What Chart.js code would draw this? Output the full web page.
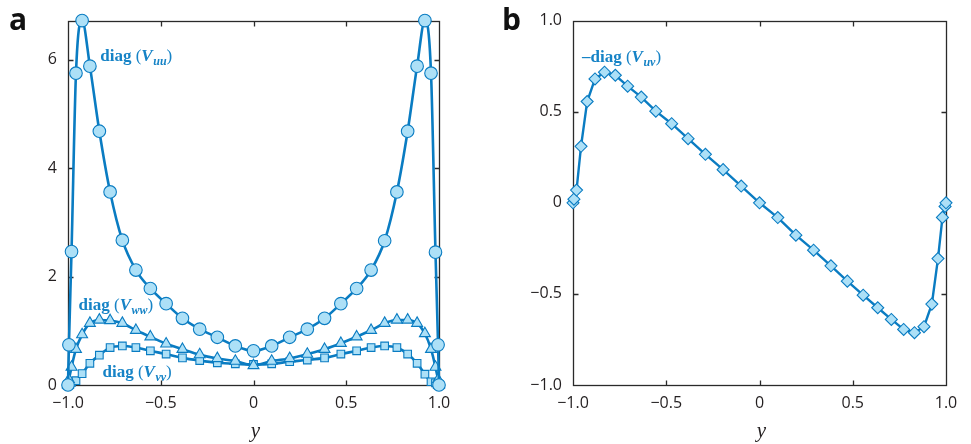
<!DOCTYPE html>
<html><head><meta charset="utf-8">
<script src="https://cdn.jsdelivr.net/npm/chart.js@4.4.1/dist/chart.umd.min.js"></script>
<style>
html,body{margin:0;padding:0;background:#fff;}
#wrap{position:relative;width:971px;height:444px;overflow:hidden;background:#fff;}
.box{position:absolute;top:0;height:444px;}
#boxA{left:0;width:485px;}
#boxB{left:485px;width:486px;}
</style></head><body>
<div id="wrap">
  <div class="box" id="boxA"><canvas id="cA" width="485" height="444"></canvas></div>
  <div class="box" id="boxB"><canvas id="cB" width="486" height="444"></canvas></div>
</div>
<script>
// wall-normal positions y (collocation grid)
const yGrid = [-1, -0.995, -0.981, -0.957, -0.924, -0.882, -0.831, -0.773, -0.707, -0.634, -0.556, -0.471, -0.383, -0.290, -0.195, -0.098, 0,
               0.098, 0.195, 0.290, 0.383, 0.471, 0.556, 0.634, 0.707, 0.773, 0.831, 0.882, 0.924, 0.957, 0.981, 0.995, 1];
// panel a
const diagVuu = [0, 0.74, 2.46, 5.75, 6.72, 5.88, 4.68, 3.56, 2.67, 2.12, 1.78, 1.50, 1.23, 1.03, 0.88, 0.72, 0.63,
                 0.72, 0.88, 1.03, 1.23, 1.50, 1.78, 2.12, 2.66, 3.56, 4.68, 5.88, 6.72, 5.75, 2.45, 0.74, 0];
const diagVww = [0, 0.10, 0.33, 0.66, 0.93, 1.14, 1.20, 1.19, 1.14, 1.01, 0.89, 0.76, 0.66, 0.56, 0.49, 0.44, 0.36,
                 0.44, 0.49, 0.57, 0.66, 0.77, 0.89, 1.01, 1.14, 1.20, 1.20, 1.14, 0.95, 0.66, 0.33, 0.10, 0];
const diagVvv = [0, 0.02, 0.05, 0.08, 0.21, 0.40, 0.55, 0.69, 0.72, 0.69, 0.63, 0.57, 0.50, 0.45, 0.41, 0.39, 0.38,
                 0.39, 0.43, 0.46, 0.50, 0.57, 0.63, 0.69, 0.72, 0.69, 0.57, 0.40, 0.20, 0.06, 0.04, 0.02, 0];
// panel b
const negDiagVuv = [0, 0.02, 0.07, 0.31, 0.556, 0.68, 0.717, 0.70, 0.64, 0.58, 0.503, 0.434, 0.352, 0.266, 0.182, 0.092, 0,
                    -0.081, -0.178, -0.26, -0.346, -0.43, -0.507, -0.576, -0.64, -0.695, -0.713, -0.68, -0.556, -0.306, -0.08, -0.02, 0];
// ticks
const xTicks = [-1, -0.5, 0, 0.5, 1];
const yTicksA = [0, 2, 4, 6];
const yTicksB = [-1, -0.5, 0, 0.5, 1];

const LINE = '#0a7cc2';
const FILL = '#ade0f7';
const TXT = '#231f20';
const NOTE = '#1683c6';
const TICKFONT = {family: "'Open Sans', sans-serif", size: 16};

function pts(ys){ return yGrid.map((x,i)=>({x, y: ys[i]})); }
function fmt1(v){ if (v === 0) return '0'; return v.toFixed(1).replace('-', '\u2212'); }
function fmt0(v){ return String(v).replace('-', '\u2212'); }

const framePlugin = {
  id: 'frame',
  beforeDatasetsDraw(chart){
    const {ctx, chartArea: a, scales: {x, y}} = chart;
    ctx.save();
    ctx.strokeStyle = '#2a2a2a';
    ctx.lineWidth = 1.3;
    const L = Math.round(a.left)+0.5, R = Math.round(a.right)+0.5, T = Math.round(a.top)+0.5, B = Math.round(a.bottom)+0.5;
    ctx.strokeRect(L, T, R-L, B-T);
    const len = 5;
    ctx.beginPath();
    x.ticks.forEach(t => {
      if (t.value <= x.min || t.value >= x.max) return;
      const p = Math.round(x.getPixelForValue(t.value))+0.5;
      ctx.moveTo(p, B); ctx.lineTo(p, B-len);
      ctx.moveTo(p, T); ctx.lineTo(p, T+len);
    });
    y.ticks.forEach(t => {
      if (t.value <= y.min || t.value >= y.max) return;
      const p = Math.round(y.getPixelForValue(t.value))+0.5;
      ctx.moveTo(L, p); ctx.lineTo(L+len, p);
      ctx.moveTo(R, p); ctx.lineTo(R-len, p);
    });
    ctx.stroke();
    ctx.restore();
  },
  afterDraw(chart){
    const o = chart.options.plugins.notes;
    if (!o) return;
    const {ctx, chartArea: a, scales: {x, y}} = chart;
    ctx.save();
    ctx.textAlign = 'left';
    ctx.textBaseline = 'alphabetic';
    // panel letter
    ctx.fillStyle = '#111';
    ctx.font = "bold 30px 'Open Sans', sans-serif";
    ctx.fillText(o.letter, o.letterX, 30);
    // axis title (italic y)
    ctx.font = "italic 21px 'Liberation Serif', serif";
    ctx.textAlign = 'center';
    ctx.fillStyle = TXT;
    ctx.fillText('y', (a.left + a.right)/2 + 2, a.bottom + 52);
    ctx.textAlign = 'left';
    // annotations
    ctx.fillStyle = NOTE;
    o.items.forEach(it => {
      let cx = x.getPixelForValue(it.x);
      const cy = y.getPixelForValue(it.y);
      const parts = [
        {t: it.pre + 'diag', f: "bold 17px 'Liberation Serif', serif"},
        {t: ' (', f: "17px 'Liberation Serif', serif"},
        {t: 'V', f: "italic bold 17px 'Liberation Serif', serif"},
        {t: it.sub, f: "italic bold 12px 'Liberation Serif', serif", dy: 4},
        {t: ')', f: "17px 'Liberation Serif', serif"}
      ];
      parts.forEach(p => {
        ctx.font = p.f;
        ctx.fillText(p.t, cx, cy + (p.dy || 0));
        cx += ctx.measureText(p.t).width + (p.t === 'V' ? 0.5 : 0);
      });
    });
    ctx.restore();
  }
};

function ds(label, data, style, radius, width, smooth){
  return {
    label, data: pts(data),
    borderColor: LINE, backgroundColor: FILL,
    borderWidth: width,
    pointStyle: style, pointRadius: radius, pointHoverRadius: radius,
    pointBackgroundColor: FILL, pointBorderColor: LINE, pointBorderWidth: 1.1,
    cubicInterpolationMode: smooth ? 'monotone' : 'default',
    tension: 0,
    clip: false
  };
}

function makeOptions(yMin, yMax, yTicks, yFmt, yWidth, padRight, notes){
  return {
    responsive: false,
    animation: false,
    devicePixelRatio: 1,
    layout: {padding: {top: 20, right: padRight, left: 0, bottom: 0}},
    plugins: {legend: {display: false}, tooltip: {enabled: false}, notes},
    scales: {
      x: {
        type: 'linear', min: -1, max: 1,
        afterBuildTicks: s => { s.ticks = xTicks.map(v => ({value: v})); },
        afterFit: s => { s.height = 59; },
        grid: {display: false, drawTicks: false},
        border: {display: false},
        ticks: {font: TICKFONT, color: TXT, padding: 9, callback: v => fmt1(v), maxRotation: 0}
      },
      y: {
        type: 'linear', min: yMin, max: yMax,
        afterBuildTicks: s => { s.ticks = yTicks.map(v => ({value: v})); },
        afterFit: s => { s.width = yWidth; },
        grid: {display: false, drawTicks: false},
        border: {display: false},
        ticks: {font: TICKFONT, color: TXT, padding: 11, callback: v => yFmt(v)}
      }
    }
  };
}

new Chart(document.getElementById('cA'), {
  type: 'line',
  data: {datasets: [
    ds('diag(Vuu)', diagVuu, 'circle', 6.3, 2.6, true),
    ds('diag(Vww)', diagVww, 'triangle', 6.3, 2.6, true),
    ds('diag(Vvv)', diagVvv, 'rect', 5.4, 2.6, true)
  ]},
  options: makeOptions(0, 6.72, yTicksA, fmt0, 68, 46, {
    letter: 'a', letterX: 9,
    items: [
      {pre: '', sub: 'uu', x: -0.826, y: 5.98},
      {pre: '', sub: 'ww', x: -0.943, y: 1.38},
      {pre: '', sub: 'vv', x: -0.814, y: 0.153}
    ]
  }),
  plugins: [framePlugin]
});

new Chart(document.getElementById('cB'), {
  type: 'line',
  data: {datasets: [
    ds('-diag(Vuv)', negDiagVuv, 'rectRot', 6, 2.4, false)
  ]},
  options: makeOptions(-1, 1, yTicksB, fmt1, 88, 25, {
    letter: 'b', letterX: 17,
    items: [
      {pre: '\u2013', sub: 'uv', x: -0.952, y: 0.772}
    ]
  }),
  plugins: [framePlugin]
});
</script>
</body></html>
